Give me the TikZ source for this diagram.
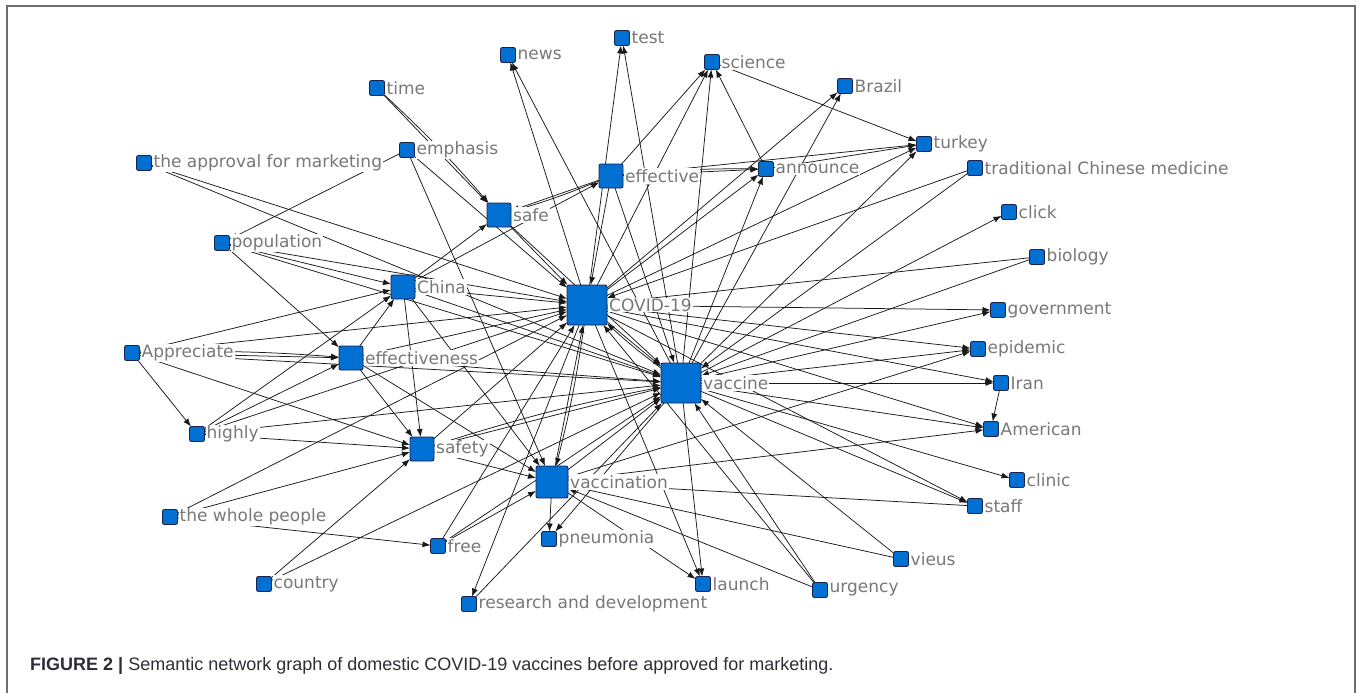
\documentclass[tikz,border=0pt]{standalone}
\usepackage{fontspec}
\setmainfont{DejaVu Sans}
\newfontfamily\capfont{Liberation Sans}
\usetikzlibrary{arrows.meta}
\pgfdeclarelayer{edgelayer}
\pgfsetlayers{edgelayer,main}
\definecolor{nodeblue}{RGB}{0,112,210}
\definecolor{nodeborder}{RGB}{25,35,75}
\definecolor{lblgray}{RGB}{120,120,120}
\definecolor{framegray}{RGB}{110,110,110}
\definecolor{capdark}{RGB}{45,45,55}
\begin{document}
\begin{tikzpicture}[x=1pt,y=-1pt,
 sq/.style={draw=nodeborder, fill=nodeblue, line width=0.9pt, rounded corners=2pt, minimum size=15pt, inner sep=0pt, outer sep=0pt},
 lbl/.style={anchor=west, fill=white, inner sep=1pt, text=lblgray, font=\fontsize{17}{20}\selectfont},
 ed/.style={draw=black!90, line width=0.75pt, -{Latex[length=8pt,width=6pt]}},
]
\useasboundingbox (0,0) rectangle (1357,693);
\draw[framegray, line width=1.3pt] (7,693) -- (7,6) -- (1355,6) -- (1355,693);

% squares
\node[sq] (news) at (508,55) {};
\node[sq] (test) at (622,38) {};
\node[sq] (sci) at (712,62) {};
\node[sq] (braz) at (845,86) {};
\node[sq] (tm) at (377,88) {};
\node[sq] (emph) at (407,150) {};
\node[sq] (appr) at (144,163) {};
\node[sq, minimum size=24pt] (eff) at (611,176) {};
\node[sq] (ann) at (766,169) {};
\node[sq] (turk) at (924,144) {};
\node[sq] (tcm) at (975,168) {};
\node[sq, minimum size=24pt] (safe) at (499,215) {};
\node[sq] (click) at (1009,212) {};
\node[sq] (pop) at (222,243) {};
\node[sq] (bio) at (1037,257) {};
\node[sq, minimum size=24pt] (china) at (403,287) {};
\node[sq, minimum size=40pt] (covid) at (587,305) {};
\node[sq] (gov) at (998,310) {};
\node[sq] (apc) at (132,353) {};
\node[sq, minimum size=24pt] (effn) at (351,358) {};
\node[sq] (epi) at (978,349) {};
\node[sq, minimum size=40pt] (vac) at (681,383) {};
\node[sq] (iran) at (1001,383) {};
\node[sq] (high) at (197,434) {};
\node[sq, minimum size=24pt] (sfty) at (422,449) {};
\node[sq] (amer) at (991,429) {};
\node[sq, minimum size=32pt] (vacn) at (552,482) {};
\node[sq] (clinic) at (1017,480) {};
\node[sq] (whole) at (170,517) {};
\node[sq] (free) at (438,546) {};
\node[sq] (staff) at (975,506) {};
\node[sq] (pneu) at (549,539) {};
\node[sq] (vieus) at (901,559) {};
\node[sq] (country) at (264,584) {};
\node[sq] (launch) at (703,584) {};
\node[sq] (urg) at (820,590) {};
\node[sq] (rd) at (469,604) {};

% edges
\begin{pgfonlayer}{edgelayer}
\foreach \a/\b in {appr/covid, appr/vac,
 emph/pop, emph/vacn, emph/covid, tm/safe,
 pop/china, pop/effn, pop/covid, pop/vac,
 covid/news, vac/news, covid/test, vac/test,
 eff/sci, covid/sci, vac/sci, ann/sci, sci/turk,
 covid/braz, vac/braz,
 ann/turk, eff/turk, covid/turk, vac/turk,
 tcm/covid, tcm/vac, vac/click, bio/covid, bio/vac,
 covid/gov, vac/gov, covid/epi, vac/epi, vacn/epi,
 covid/iran, vac/iran, iran/amer, covid/amer, vac/amer, vacn/amer,
 vac/clinic, covid/staff, vac/staff, staff/vacn,
 vieus/vacn, vieus/vac, urg/vacn, urg/vac, urg/covid,
 vac/launch, covid/launch, vacn/launch, vacn/pneu, vac/pneu,
 covid/rd, rd/vac, free/covid, free/vacn, free/vac, whole/free,
 country/sfty, country/vac, whole/covid, whole/sfty,
 apc/high, high/sfty, high/china, high/effn, high/covid, high/vac,
 apc/effn, apc/sfty, apc/china, apc/covid, apc/vac,
 effn/china, effn/sfty, effn/covid, effn/vac, effn/vacn,
 china/covid, china/vac, china/sfty, china/vacn, china/safe, china/eff,
 safe/covid, safe/vac, eff/safe, eff/ann, eff/covid, eff/vac,
 covid/ann, vac/ann, covid/vac, vacn/covid, vacn/vac,
 sfty/covid, sfty/vac, sfty/vacn}
 \draw[ed] (\a) -- (\b);
\foreach \a/\b in {tm/safe, apc/effn, eff/safe, eff/ann, vac/covid, covid/vacn, sfty/vac}
 \draw[ed] (\a) to[bend left=3] (\b);
\end{pgfonlayer}

% labels
\node[lbl] (newsL) at ([xshift=1pt]news.east) {news};
\node[lbl] (testL) at ([xshift=1pt]test.east) {test};
\node[lbl] (sciL) at ([xshift=1pt]sci.east) {science};
\node[lbl] (brazL) at ([xshift=1pt]braz.east) {Brazil};
\node[lbl] (tmL) at ([xshift=1pt]tm.east) {time};
\node[lbl] (emphL) at ([xshift=1pt]emph.east) {emphasis};
\node[lbl] (apprL) at ([xshift=1pt]appr.east) {the approval for marketing};
\node[lbl] (effL) at ([xshift=1pt]eff.east) {effective};
\node[lbl] (annL) at ([xshift=1pt]ann.east) {announce};
\node[lbl] (turkL) at ([xshift=1pt]turk.east) {turkey};
\node[lbl] (tcmL) at ([xshift=1pt]tcm.east) {traditional Chinese medicine};
\node[lbl] (safeL) at ([xshift=1pt]safe.east) {safe};
\node[lbl] (clickL) at ([xshift=1pt]click.east) {click};
\node[lbl] (popL) at ([xshift=1pt]pop.east) {population};
\node[lbl] (bioL) at ([xshift=1pt]bio.east) {biology};
\node[lbl] (chinaL) at ([xshift=1pt]china.east) {China};
\node[lbl] (covidL) at ([xshift=1pt]covid.east) {COVID-19};
\node[lbl] (govL) at ([xshift=1pt]gov.east) {government};
\node[lbl] (apcL) at ([xshift=1pt]apc.east) {Appreciate};
\node[lbl] (effnL) at ([xshift=1pt]effn.east) {effectiveness};
\node[lbl] (epiL) at ([xshift=1pt]epi.east) {epidemic};
\node[lbl] (vacL) at ([xshift=1pt]vac.east) {vaccine};
\node[lbl] (iranL) at ([xshift=1pt]iran.east) {Iran};
\node[lbl] (highL) at ([xshift=1pt]high.east) {highly};
\node[lbl] (sftyL) at ([xshift=1pt]sfty.east) {safety};
\node[lbl] (amerL) at ([xshift=1pt]amer.east) {American};
\node[lbl] (vacnL) at ([xshift=1pt]vacn.east) {vaccination};
\node[lbl] (clinicL) at ([xshift=1pt]clinic.east) {clinic};
\node[lbl] (wholeL) at ([xshift=1pt]whole.east) {the whole people};
\node[lbl] (freeL) at ([xshift=1pt]free.east) {free};
\node[lbl] (staffL) at ([xshift=1pt]staff.east) {staff};
\node[lbl] (pneuL) at ([xshift=1pt]pneu.east) {pneumonia};
\node[lbl] (vieusL) at ([xshift=1pt]vieus.east) {vieus};
\node[lbl] (countryL) at ([xshift=1pt]country.east) {country};
\node[lbl] (launchL) at ([xshift=1pt]launch.east) {launch};
\node[lbl] (urgL) at ([xshift=1pt]urg.east) {urgency};
\node[lbl] (rdL) at ([xshift=1pt]rd.east) {research and development};

% caption
\node[anchor=base west, inner sep=0pt, text=capdark, font=\capfont\fontsize{18}{21}\selectfont] (cap) at (30,670)
 {\textbf{FIGURE 2 |} Semantic network graph of domestic COVID-19 vaccines before approved for marketing.};
\end{tikzpicture}
\end{document}
